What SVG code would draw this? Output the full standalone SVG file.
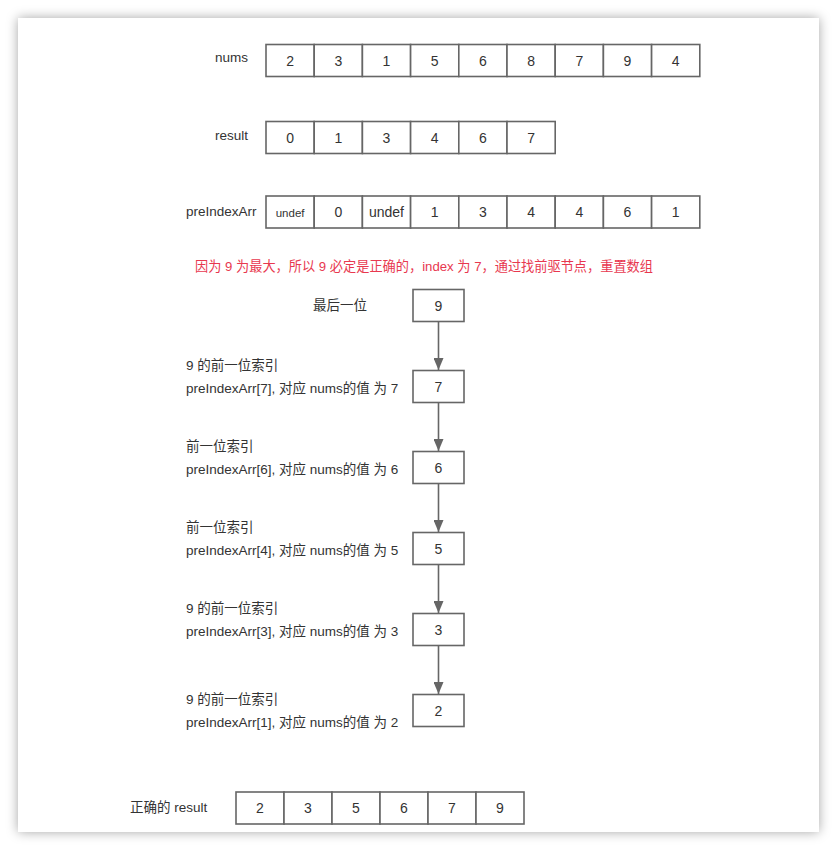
<svg xmlns="http://www.w3.org/2000/svg" width="837" height="850" viewBox="0 0 837 850">
<defs>
<filter id="sh" x="-10%" y="-10%" width="120%" height="120%">
<feDropShadow dx="0" dy="0" stdDeviation="6" flood-color="#000" flood-opacity="0.35"/>
</filter>
<marker id="ah" viewBox="0 0 12 10" refX="12" refY="5" markerWidth="12" markerHeight="10" markerUnits="userSpaceOnUse" orient="auto">
<path d="M0,0 L12,5 L0,10 Z" fill="#666"/>
</marker>
</defs>
<style>
.c{fill:#fff;stroke:#666;stroke-width:1.6}
text{font-family:"Liberation Sans","Noto Sans CJK SC",sans-serif;font-size:13.5px;fill:#333}
.n{text-anchor:middle;font-size:14px}
.s{font-size:11.5px}
.red{fill:#e8384f;font-size:13.2px}
.e{stroke:#666;stroke-width:1.6;fill:none;marker-end:url(#ah)}
</style>
<rect x="0" y="0" width="837" height="850" fill="#fff"/>
<rect x="18" y="18" width="801" height="814" fill="#fff" filter="url(#sh)"/>

<g id="nums">
<text x="215" y="62">nums</text>
<rect class="c" x="266" y="44.5" width="48.2" height="32"/><text class="n" x="290.1" y="65.5">2</text>
<rect class="c" x="314.2" y="44.5" width="48.2" height="32"/><text class="n" x="338.3" y="65.5">3</text>
<rect class="c" x="362.4" y="44.5" width="48.2" height="32"/><text class="n" x="386.5" y="65.5">1</text>
<rect class="c" x="410.6" y="44.5" width="48.2" height="32"/><text class="n" x="434.7" y="65.5">5</text>
<rect class="c" x="458.8" y="44.5" width="48.2" height="32"/><text class="n" x="482.9" y="65.5">6</text>
<rect class="c" x="507" y="44.5" width="48.2" height="32"/><text class="n" x="531.1" y="65.5">8</text>
<rect class="c" x="555.2" y="44.5" width="48.2" height="32"/><text class="n" x="579.3" y="65.5">7</text>
<rect class="c" x="603.4" y="44.5" width="48.2" height="32"/><text class="n" x="627.5" y="65.5">9</text>
<rect class="c" x="651.6" y="44.5" width="48.2" height="32"/><text class="n" x="675.7" y="65.5">4</text>
</g>

<g id="result">
<text x="215" y="140">result</text>
<rect class="c" x="266" y="121.5" width="48.2" height="32"/><text class="n" x="290.1" y="142.5">0</text>
<rect class="c" x="314.2" y="121.5" width="48.2" height="32"/><text class="n" x="338.3" y="142.5">1</text>
<rect class="c" x="362.4" y="121.5" width="48.2" height="32"/><text class="n" x="386.5" y="142.5">3</text>
<rect class="c" x="410.6" y="121.5" width="48.2" height="32"/><text class="n" x="434.7" y="142.5">4</text>
<rect class="c" x="458.8" y="121.5" width="48.2" height="32"/><text class="n" x="482.9" y="142.5">6</text>
<rect class="c" x="507" y="121.5" width="48.2" height="32"/><text class="n" x="531.1" y="142.5">7</text>
</g>

<g id="preIndexArr">
<text x="186" y="216">preIndexArr</text>
<rect class="c" x="266" y="196" width="48.2" height="32"/><text class="n s" x="290.1" y="216.5">undef</text>
<rect class="c" x="314.2" y="196" width="48.2" height="32"/><text class="n" x="338.3" y="217">0</text>
<rect class="c" x="362.4" y="196" width="48.2" height="32"/><text class="n" x="386.5" y="217">undef</text>
<rect class="c" x="410.6" y="196" width="48.2" height="32"/><text class="n" x="434.7" y="217">1</text>
<rect class="c" x="458.8" y="196" width="48.2" height="32"/><text class="n" x="482.9" y="217">3</text>
<rect class="c" x="507" y="196" width="48.2" height="32"/><text class="n" x="531.1" y="217">4</text>
<rect class="c" x="555.2" y="196" width="48.2" height="32"/><text class="n" x="579.3" y="217">4</text>
<rect class="c" x="603.4" y="196" width="48.2" height="32"/><text class="n" x="627.5" y="217">6</text>
<rect class="c" x="651.6" y="196" width="48.2" height="32"/><text class="n" x="675.7" y="217">1</text>
</g>

<g id="note">
<text class="red" x="424" y="271" text-anchor="middle">因为 9 为最大，所以 9 必定是正确的，index 为 7，通过找前驱节点，重置数组</text>
</g>

<g id="n9">
<text x="313" y="310">最后一位</text>
<rect class="c" x="413" y="289.5" width="51" height="32"/><text class="n" x="438.5" y="310.5">9</text>
</g>
<g id="n7">
<text x="186" y="370">9 的前一位索引</text>
<text x="186" y="393">preIndexArr[7], 对应 nums的值 为 7</text>
<rect class="c" x="413" y="370.5" width="51" height="32"/><text class="n" x="438.5" y="391.5">7</text>
</g>
<g id="n6">
<text x="186" y="451">前一位索引</text>
<text x="186" y="474">preIndexArr[6], 对应 nums的值 为 6</text>
<rect class="c" x="413" y="451.5" width="51" height="32"/><text class="n" x="438.5" y="472.5">6</text>
</g>
<g id="n5">
<text x="186" y="532">前一位索引</text>
<text x="186" y="555">preIndexArr[4], 对应 nums的值 为 5</text>
<rect class="c" x="413" y="532.5" width="51" height="32"/><text class="n" x="438.5" y="553.5">5</text>
</g>
<g id="n3">
<text x="186" y="613">9 的前一位索引</text>
<text x="186" y="636">preIndexArr[3], 对应 nums的值 为 3</text>
<rect class="c" x="413" y="613.5" width="51" height="32"/><text class="n" x="438.5" y="634.5">3</text>
</g>
<g id="n2">
<text x="186" y="704">9 的前一位索引</text>
<text x="186" y="727">preIndexArr[1], 对应 nums的值 为 2</text>
<rect class="c" x="413" y="694.5" width="51" height="32"/><text class="n" x="438.5" y="715.5">2</text>
</g>

<g id="connectors">
<line class="e" x1="438.5" y1="321.5" x2="438.5" y2="370"/>
<line class="e" x1="438.5" y1="402.5" x2="438.5" y2="451"/>
<line class="e" x1="438.5" y1="483.5" x2="438.5" y2="532"/>
<line class="e" x1="438.5" y1="564.5" x2="438.5" y2="613"/>
<line class="e" x1="438.5" y1="645.5" x2="438.5" y2="694"/>
</g>

<g id="final">
<text x="130" y="812">正确的 result</text>
<rect class="c" x="236" y="792" width="48" height="32"/><text class="n" x="260" y="813">2</text>
<rect class="c" x="284" y="792" width="48" height="32"/><text class="n" x="308" y="813">3</text>
<rect class="c" x="332" y="792" width="48" height="32"/><text class="n" x="356" y="813">5</text>
<rect class="c" x="380" y="792" width="48" height="32"/><text class="n" x="404" y="813">6</text>
<rect class="c" x="428" y="792" width="48" height="32"/><text class="n" x="452" y="813">7</text>
<rect class="c" x="476" y="792" width="48" height="32"/><text class="n" x="500" y="813">9</text>
</g>
</svg>
